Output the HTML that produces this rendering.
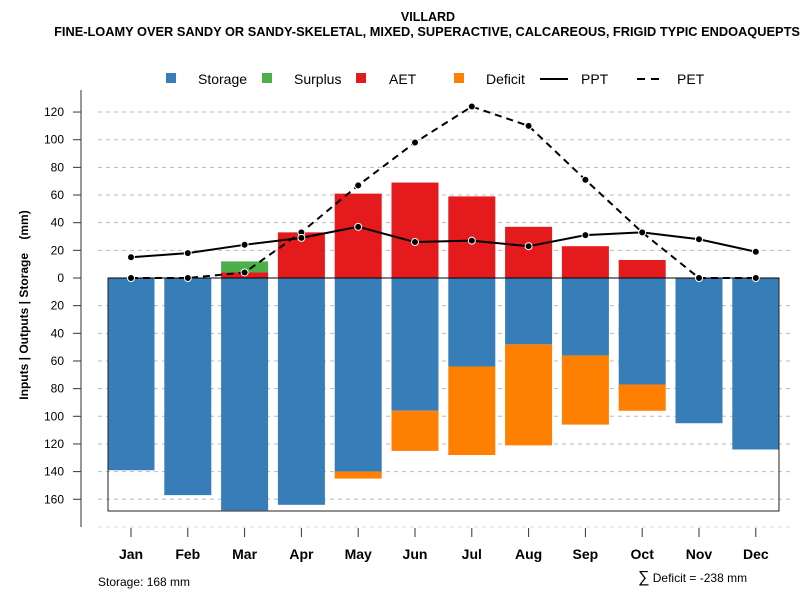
<!DOCTYPE html>
<html><head><meta charset="utf-8"><style>
body{margin:0;background:#fff;font-family:"Liberation Sans",sans-serif}
svg text{font-family:"Liberation Sans",sans-serif}
</style></head><body>
<svg id="chart" width="800" height="600" xmlns="http://www.w3.org/2000/svg">
<text x="428" y="21" font-size="12.5" font-weight="bold" text-anchor="middle">VILLARD</text>
<text x="427" y="36" font-size="12.8" font-weight="bold" text-anchor="middle">FINE-LOAMY OVER SANDY OR SANDY-SKELETAL, MIXED, SUPERACTIVE, CALCAREOUS, FRIGID TYPIC ENDOAQUEPTS</text>
<g id="grid"></g>
<g id="bars"></g>
<rect x="108" y="278" width="671" height="233" fill="none" stroke="#222" stroke-width="1"/>
<line x1="108" x2="779" y1="278" y2="278" stroke="#000"/>
<g id="lines"></g>
<line x1="81" x2="81" y1="90" y2="527" stroke="#777" stroke-width="1.5"/>
<line x1="98" x2="790" y1="527" y2="527" stroke="#ddd" stroke-dasharray="4,4"/>
<g id="yaxis"></g>
<g id="xaxis"></g>
<text transform="translate(28,305) rotate(-90)" font-size="12" font-weight="bold" text-anchor="middle" xml:space="preserve" style="white-space:pre">Inputs | Outputs | Storage    (mm)</text>
<text x="98" y="586" font-size="12">Storage: 168 mm</text>
<text x="638" y="582" font-size="12"><tspan font-size="16">∑</tspan> Deficit = -238 mm</text>
<g id="legend"></g>
</svg>
<script>
const months=["Jan","Feb","Mar","Apr","May","Jun","Jul","Aug","Sep","Oct","Nov","Dec"];
const storage=[139,157,168,164,140,96,64,48,56,77,105,124];
const deficit=[0,0,0,0,5,29,64,73,50,19,0,0];
const aet=[0,0,4,33,61,69,59,37,23,13,0,0];
const surplus=[0,0,8,0,0,0,0,0,0,0,0,0];
const ppt=[15,18,24,29,37,26,27,23,31,33,28,19];
const pet=[0,0,4,33,67,98,124,110,71,33,0,0];
const yTicks=[120,100,80,60,40,20,0,-20,-40,-60,-80,-100,-120,-140,-160];
const NS="http://www.w3.org/2000/svg";
const y=v=>278-v*1.383;
const x=i=>131+i*56.8;
const bw=47;
function mk(tag,attrs,parent){const e=document.createElementNS(NS,tag);for(const k in attrs)e.setAttribute(k,attrs[k]);document.getElementById(parent).appendChild(e);return e;}
yTicks.forEach(t=>{
 if(t!==0){const g=mk('line',{x1:98,x2:790,y1:y(t),y2:y(t),stroke:'#bbb','stroke-dasharray':'4,4'},'grid');
 
 }
 const tk=mk('line',{x1:73,x2:81,y1:y(t),y2:y(t),stroke:'#333'},'yaxis');
 
 
 const tx=mk('text',{x:64,y:y(t)+4,'font-size':12,'text-anchor':'end'},'yaxis');tx.textContent=Math.abs(t);
 
 
});
months.forEach((m,i)=>{
 const l=x(i)-bw/2;
 const s=mk('rect',{x:l,y:278,width:bw,height:storage[i]*1.383,fill:'#377EB8'},'bars');
 
 
 if(deficit[i]>0){const d=mk('rect',{x:l,y:y(-storage[i]),width:bw,height:deficit[i]*1.383,fill:'#FF7F00'},'bars');
 
 }
 if(aet[i]>0){const a=mk('rect',{x:l,y:y(aet[i]),width:bw,height:aet[i]*1.383,fill:'#E41A1C'},'bars');
 
 }
 if(surplus[i]>0){const u=mk('rect',{x:l,y:y(aet[i]+surplus[i]),width:bw,height:surplus[i]*1.383,fill:'#4DAF4A'},'bars');
 
 }
 const tk=mk('line',{x1:x(i),x2:x(i),y1:528,y2:537,stroke:'#333'},'xaxis');
 
 
 const tx=mk('text',{x:x(i),y:559,'font-size':14,'font-weight':'bold','text-anchor':'middle'},'xaxis');tx.textContent=m;
 
 
});
function series(vals,dash,name){
 const p=mk('polyline',{points:vals.map((v,i)=>x(i)+','+y(v)).join(' '),fill:'none',stroke:'#000','stroke-width':2,'stroke-dasharray':dash},'lines');
 
 
 vals.forEach((v,i)=>{const c=mk('circle',{cx:x(i),cy:y(v),r:3.5,fill:'#000',stroke:'#fff','stroke-width':1},'lines');
 
 });
}
series(pet,'7,5','pet');
series(ppt,'','ppt');
const leg=[["Storage","#377EB8",166,198],["Surplus","#4DAF4A",262,294],["AET","#E41A1C",356,389],["Deficit","#FF7F00",454,486]];
leg.forEach(([t,c,sx,tx])=>{
 const r=mk('rect',{x:sx,y:73,width:10,height:10,fill:c},'legend');
 
 
 const e=mk('text',{x:tx,y:84,'font-size':14},'legend');e.textContent=t;
 
 
});
const l1=mk('line',{x1:540,x2:568,y1:79,y2:79,stroke:'#000','stroke-width':2},'legend');


const t1=mk('text',{x:581,y:84,'font-size':14},'legend');t1.textContent='PPT';


const l2=mk('line',{x1:637,x2:645,y1:79,y2:79,stroke:'#000','stroke-width':2},'legend');


const l3=mk('line',{x1:651,x2:659,y1:79,y2:79,stroke:'#000','stroke-width':2},'legend');


const t2=mk('text',{x:677,y:84,'font-size':14},'legend');t2.textContent='PET';


</script>
</body></html>
